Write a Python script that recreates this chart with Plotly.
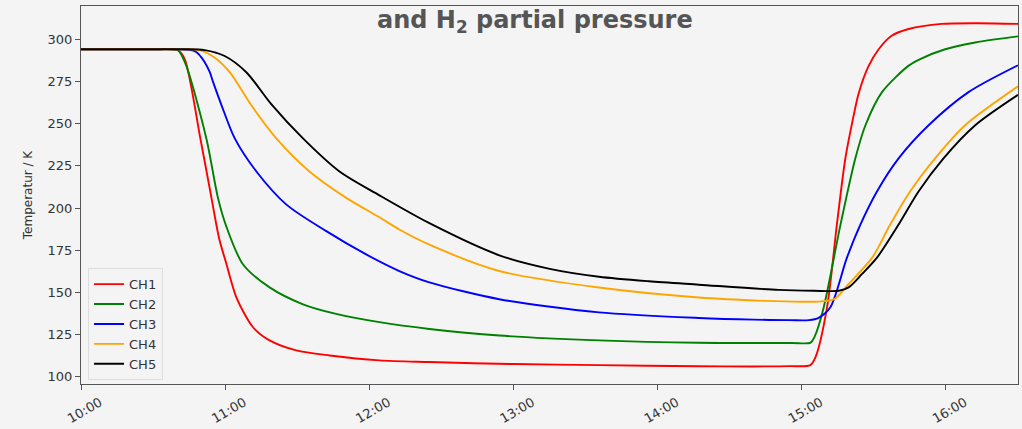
import pandas as pd
import plotly.graph_objects as go

# minutes after 10:00 and temperatures (K)
ch1_min = [0, 15, 30, 37, 40.3, 43.2, 49.7, 54.3, 57.5, 60.5, 64.7, 71.6, 78.5, 89.6, 103.5, 124.2, 145, 180,
           215.6, 257.2, 280, 295, 303.6, 305.8, 310.5, 314.6, 318.1, 321.2, 323.7, 327.8, 332, 337.4, 344.5,
           358.2, 373.5, 390]
ch1_val = [294, 294, 294, 294, 293.5, 288, 241, 206, 182, 167, 147, 129.4, 121.6, 115.7, 112.7, 109.8, 108.8, 107.6,
           107, 106.3, 106.2, 106.4, 107, 112, 141, 190, 229, 252, 268, 284, 294, 302, 306,
           309, 309.4, 309]

ch2_min = [0, 15, 30, 37, 40.3, 43.6, 52.2, 57, 60.5, 67.4, 78.5, 92.4, 106.2, 124.2, 145, 174.1, 215.6, 257.2,
           280, 296, 303.7, 305.4, 309.1, 316.1, 322.3, 326.5, 333.4, 344.5, 349.3, 359.7, 372.2, 390]
ch2_val = [294, 294, 294, 294, 293.5, 285, 241, 206, 189, 166.7, 153, 143, 137.3, 132.4, 128.4, 124.5, 121.6, 120.2,
           120.1, 120.1, 120.3, 124, 141, 190, 229.4, 249, 268.6, 284.3, 288.2, 294, 298, 301.6]

ch3_min = [0, 15, 30, 40, 45.8, 48.1, 50.1, 51.5, 53.6, 55, 58.5, 64, 73, 85.5, 102.1, 118.7, 132.5, 145, 174.1,
           215.6, 257.2, 280, 295, 303, 307, 311.9, 318.8, 324.4, 331.3, 340.3, 352.8, 369.4, 390]
ch3_val = [294, 294, 294, 294, 293.5, 292.2, 289.2, 286.3, 280.4, 274.5, 260.8, 241.2, 221.6, 202, 186.3, 172.5,
           162.7, 156, 146, 138.2, 134.9, 133.9, 133.6, 133.6, 135, 141.2, 170.6, 190.2, 209.8, 229.4, 249, 268.6,
           284.5]

ch4_min = [0, 15, 30, 42, 49.4, 55.7, 61.9, 70.9, 81.3, 95.1, 110.4, 124.2, 132.5, 145, 174.1, 215.6, 257.2,
           285, 300, 307, 313.5, 319.5, 329.3, 336.8, 345.1, 355.5, 368, 390]
ch4_val = [294, 294, 294, 294, 293.5, 289, 280.4, 260.8, 241.2, 221.6, 206, 194.5, 187.3, 178.3, 162.7, 152.9, 147,
           145, 144.5, 144.6, 146, 155, 170.6, 190.2, 209.8, 229.4, 249, 272]

ch5_min = [0, 15, 30, 42, 51.5, 59.8, 68.8, 79.2, 92.4, 107.6, 124.2, 145, 174.1, 195.1, 215.6,
           236.4, 257.2, 290.4, 305, 315.4, 319.5, 325, 331.3, 340.3, 348.6, 359, 372.2, 390]
ch5_val = [294, 294, 294, 294, 293.5, 290, 280.4, 261.5, 241.2, 221.6, 207.5, 191, 172, 164, 159.3,
           156.6, 154.6, 151.5, 151, 151, 153, 160.8, 170.6, 190.2, 209.8, 229.4, 249, 267]

names = ["CH1", "CH2", "CH3", "CH4", "CH5"]
colors = ["#ff0000", "#008000", "#0000ff", "#ffa500", "#000000"]
y_ticks = [100, 125, 150, 175, 200, 225, 250, 275, 300]

base = pd.Timestamp("2020-01-01 10:00")
def to_time(mins):
    return [base + pd.Timedelta(minutes=m) for m in mins]

series = [(ch1_min, ch1_val), (ch2_min, ch2_val), (ch3_min, ch3_val), (ch4_min, ch4_val), (ch5_min, ch5_val)]

fig = go.Figure()
for (m, v), n, c in zip(series, names, colors):
    fig.add_trace(go.Scatter(x=to_time(m), y=v, name=n, mode="lines",
                             line=dict(color=c, width=1.9, shape="spline", smoothing=0.8)))

bg = "#f4f4f4"
axcol = "#555555"
fig.update_layout(
    width=1022, height=429,
    margin=dict(l=81, r=3, t=6, b=42),
    paper_bgcolor=bg, plot_bgcolor=bg,
    font=dict(family="DejaVu Sans", size=13, color="#333333"),
    showlegend=True,
    legend=dict(x=0.0075, y=0.01, xanchor="left", yanchor="bottom",
                bgcolor=bg, bordercolor="#dddddd", borderwidth=1,
                font=dict(size=13, color="#333333")),
)
fig.update_xaxes(
    range=[base, base + pd.Timedelta(minutes=390)],
    tickformat="%H:%M", dtick=3600000, tick0=base,
    tickangle=-30, ticklabelshift=19, ticks="outside", ticklen=5, tickcolor=axcol,
    showline=True, linecolor=axcol, linewidth=1.2, mirror=True,
    showgrid=False, zeroline=False,
)
fig.update_yaxes(
    range=[95.8, 319.6], tickvals=y_ticks,
    ticks="outside", ticklen=5, tickcolor=axcol,
    showline=True, linecolor=axcol, linewidth=1.2, mirror=True,
    showgrid=False, zeroline=False,
    title=dict(text="Temperatur / K", font=dict(size=12, color="#333333"), standoff=12),
)
fig.add_annotation(
    text="and H<sub>2</sub> partial pressure", xref="paper", yref="paper",
    x=0.484, y=1.0, xanchor="center", yanchor="top", yshift=2, showarrow=False,
    font=dict(family="DejaVu Sans", size=24, color="#555555", weight="bold"),
)
fig.write_html("out.html")
